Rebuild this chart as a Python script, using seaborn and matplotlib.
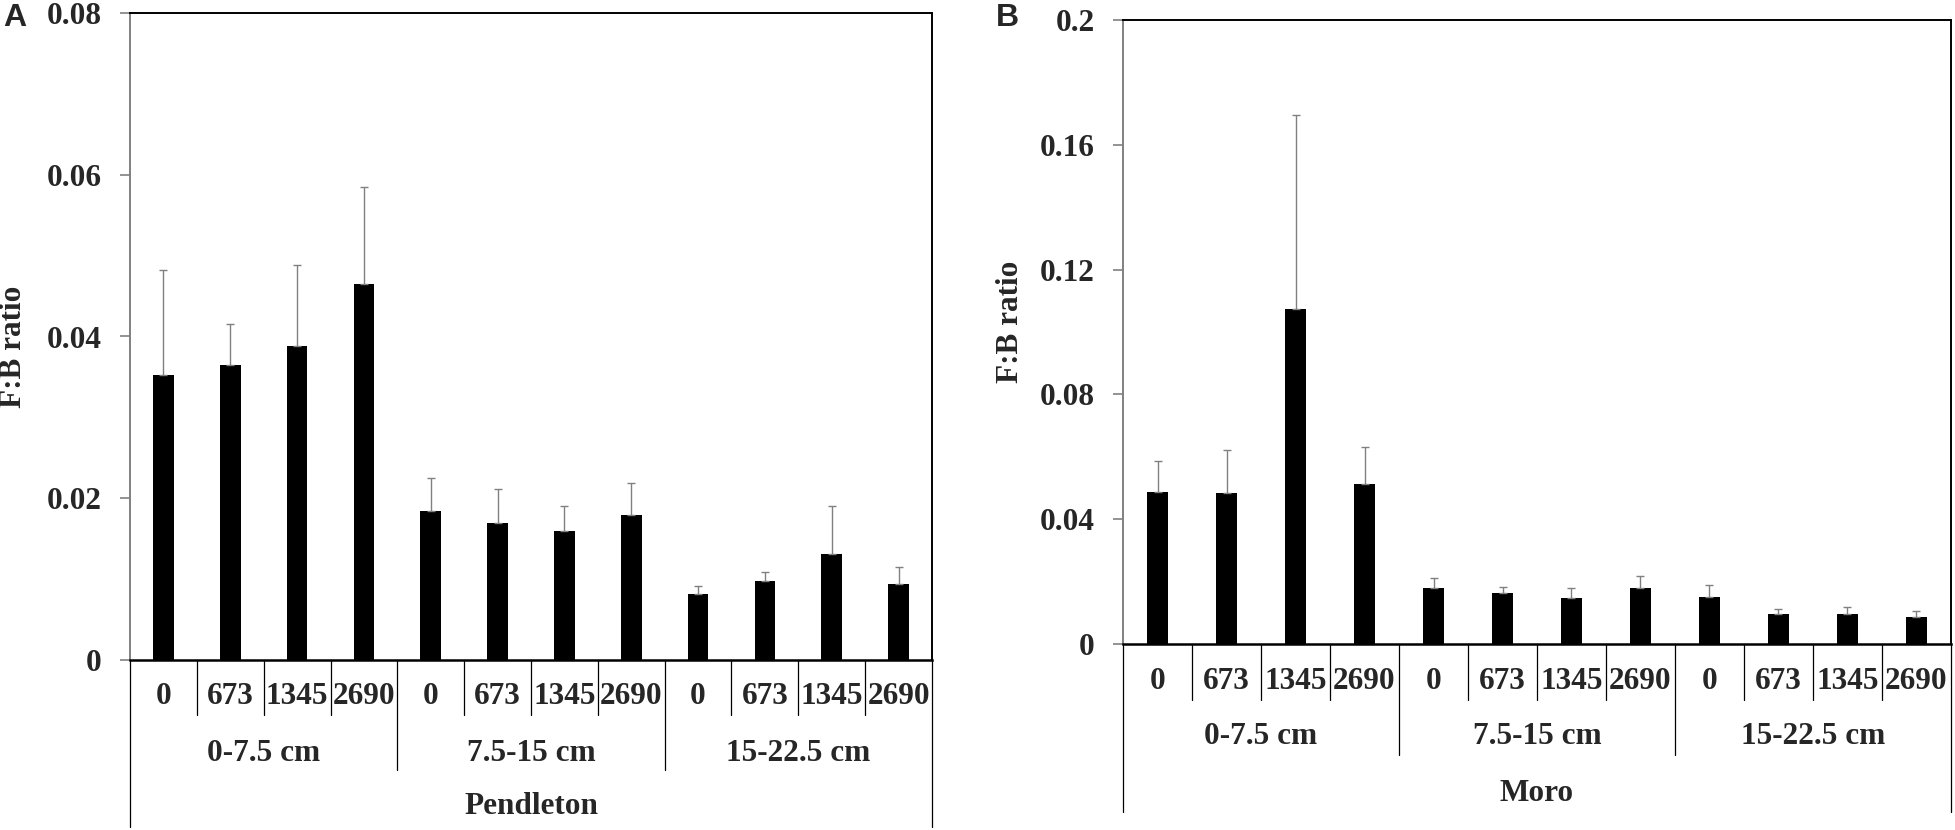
import numpy as np
import pandas as pd
import matplotlib
matplotlib.use("Agg")
import matplotlib.pyplot as plt
from matplotlib.transforms import blended_transform_factory
import seaborn as sns

# ---------------- data ----------------
doses = ["0", "673", "1345", "2690"]
depths = ["0-7.5 cm", "7.5-15 cm", "15-22.5 cm"]

pendleton_mean = [0.0353, 0.0365, 0.0388, 0.0465,
                  0.0184, 0.0170, 0.0160, 0.0179,
                  0.0081, 0.0098, 0.0131, 0.0094]
pendleton_err = [0.0129, 0.0051, 0.0101, 0.0120,
                 0.0041, 0.0041, 0.0031, 0.0040,
                 0.0010, 0.0011, 0.0060, 0.0021]

moro_mean = [0.0488, 0.0483, 0.1075, 0.0512,
             0.0179, 0.0163, 0.0147, 0.0179,
             0.0150, 0.0095, 0.0095, 0.0086]
moro_err = [0.0099, 0.0139, 0.0620, 0.0121,
            0.0031, 0.0021, 0.0031, 0.0039,
            0.0040, 0.0018, 0.0022, 0.0021]

ticks_a = [0, 0.02, 0.04, 0.06, 0.08]
ticklabels_a = ["0", "0.02", "0.04", "0.06", "0.08"]
ticks_b = [0, 0.04, 0.08, 0.12, 0.16, 0.2]
ticklabels_b = ["0", "0.04", "0.08", "0.12", "0.16", "0.2"]

# ---------------- style ----------------
sns.set_theme(style="white")
plt.rcParams["font.family"] = ["Liberation Serif", "DejaVu Serif"]
plt.rcParams["font.weight"] = "bold"

W, H = 1955, 830
fig = plt.figure(figsize=(W / 100, H / 100), dpi=100)

FS = 22.5
GRAY = "#808080"


def make_panel(rect_px, means, errs, site, ticks, ticklabels, ylim,
               letter, letter_xy, ylab_px, offs):
    x0, y_top, x1, y_zero = rect_px
    ax_h = y_zero - y_top
    ax = fig.add_axes([x0 / W, (H - y_zero) / H, (x1 - x0) / W, ax_h / H])

    df = pd.DataFrame({
        "cat": [f"{d}|{s}" for d in depths for s in doses],
        "value": means,
    })
    order = list(df["cat"])
    sns.barplot(data=df, x="cat", y="value", order=order, color="black",
                width=0.31, errorbar=None, ax=ax, saturation=1)
    for p in ax.patches:
        p.set_edgecolor("black")
        p.set_linewidth(0)

    xs = np.arange(len(means))
    ax.errorbar(xs, means, yerr=[np.zeros(len(errs)), errs], fmt="none",
                ecolor=GRAY, elinewidth=1.0, capsize=2.6, capthick=1.0,
                zorder=1)

    ax.set_xlim(-0.5, len(means) - 0.5)
    ax.set_ylim(*ylim)
    ax.set_yticks(ticks)
    ax.set_yticklabels(ticklabels)
    ax.set_xticks([])
    ax.set_xlabel("")
    ax.set_ylabel("")
    ax.tick_params(axis="y", direction="out", length=7.2, width=1.2,
                   color=GRAY, pad=13, labelsize=FS, left=True)
    for lab in ax.get_yticklabels():
        lab.set_fontweight("bold")

    for side in ["top", "right"]:
        ax.spines[side].set_visible(True)
        ax.spines[side].set_color("black")
        ax.spines[side].set_linewidth(1.4)
    ax.spines["left"].set_color(GRAY)
    ax.spines["left"].set_linewidth(1.4)
    ax.spines["bottom"].set_color("black")
    ax.spines["bottom"].set_linewidth(1.8)

    trans = blended_transform_factory(ax.transData, ax.transAxes)
    f = lambda px: -px / ax_h
    t_lab, t_tick, g_lab, g_line, s_lab, s_line = offs

    # category separators
    for i in range(len(means) - 1):
        depth_px = g_line if (i + 1) % 4 == 0 else t_tick
        ax.plot([i + 0.5, i + 0.5], [0, f(depth_px)], transform=trans,
                color="black", lw=0.9, clip_on=False)
    for xb in [-0.5, len(means) - 0.5]:
        ax.plot([xb, xb], [0, f(s_line)], transform=trans,
                color="black", lw=0.9, clip_on=False)

    # dose labels
    for i in range(len(means)):
        ax.text(i, f(t_lab), doses[i % 4], transform=trans, ha="center",
                va="center", fontsize=FS, fontweight="bold")
    # depth labels
    for g, d in enumerate(depths):
        ax.text(4 * g + 1.5, f(g_lab), d, transform=trans, ha="center",
                va="center", fontsize=FS, fontweight="bold")
    # site label
    ax.text(5.5, f(s_lab), site, transform=trans, ha="center",
            va="center", fontsize=FS, fontweight="bold")

    # y label
    lx, ly = ylab_px
    ax.text((lx - x0) / (x1 - x0), (y_zero - ly) / ax_h, "F:B ratio",
            transform=ax.transAxes, rotation=90, ha="center", va="center",
            fontsize=FS, fontweight="bold")

    # panel letter
    fig.text(letter_xy[0] / W, 1 - letter_xy[1] / H, letter,
             family=["Liberation Sans", "DejaVu Sans"], fontweight="bold",
             fontsize=23, ha="left", va="center")
    return ax


make_panel((130, 13, 932, 660), pendleton_mean, pendleton_err, "Pendleton",
           ticks_a, ticklabels_a, (0, 0.08), "A", (3, 18), (14, 347),
           (36, 55, 93, 110, 146, 167))
make_panel((1123, 20, 1951, 644), moro_mean, moro_err, "Moro",
           ticks_b, ticklabels_b, (0, 0.2), "B", (996, 18), (1011, 322),
           (37, 56, 92, 111, 149, 168))

fig.savefig("out.png", dpi=100)
